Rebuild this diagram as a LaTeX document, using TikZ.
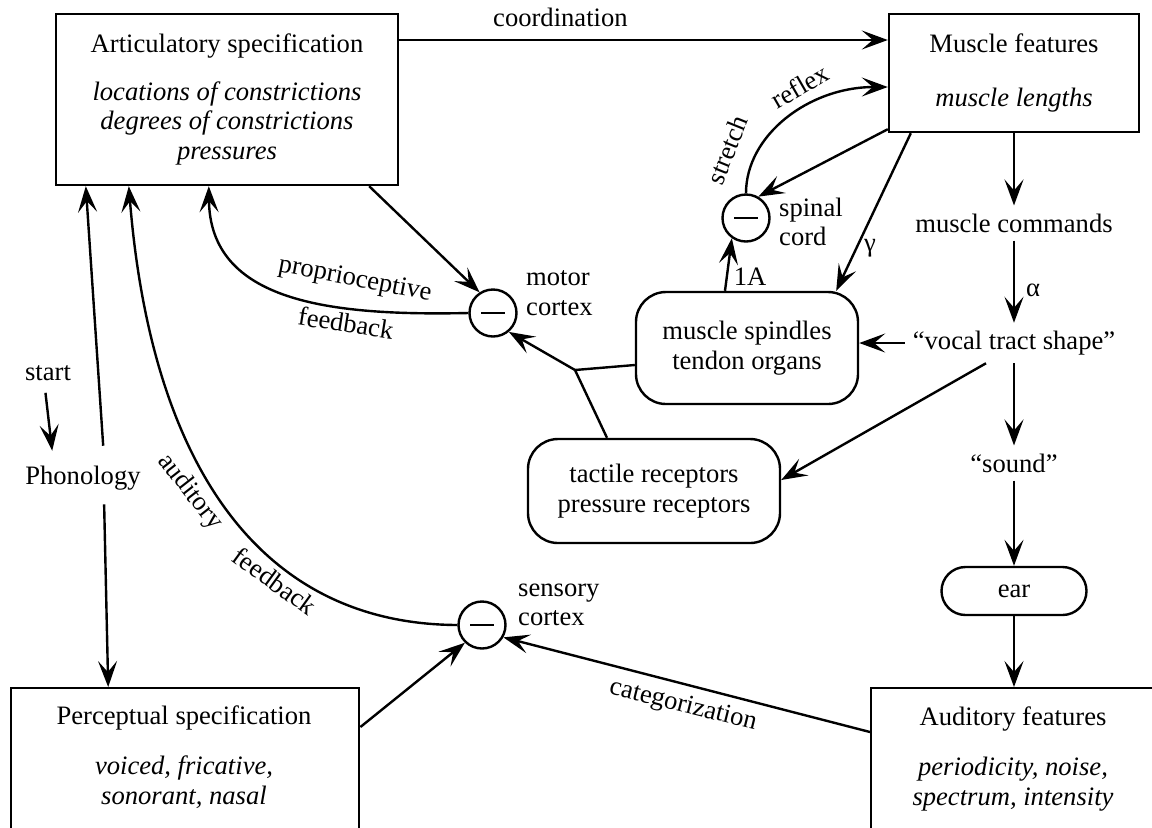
\documentclass[tikz,border=0pt]{standalone}
\usepackage{fontspec}
\setmainfont{Liberation Serif}
\usetikzlibrary{arrows.meta}
\begin{document}
\begin{tikzpicture}[x=0.5pt,y=-0.5pt,
  font=\fontsize{13.3}{14.8}\selectfont, line width=1.2pt,
  arr/.style={-{Stealth[length=13pt,width=9.5pt,inset=5.5pt]}},
  box/.style={draw, rectangle, inner sep=0pt, align=center},
  rbox/.style={draw, rectangle, rounded corners=15pt, inner sep=0pt, align=center},
  sumnode/.style={draw, circle, minimum size=23.5pt, inner sep=0pt},
  lbl/.style={inner sep=2pt},
  txt/.style={inner sep=3.5pt, align=center}]
\clip (0,0) rectangle (1152,827);

% boxes
\node[box, minimum width=171pt, minimum height=85.5pt] (art) at (227,99.5)
  {Articulatory specification\\[9pt]\textit{locations of constrictions}\\\textit{degrees of constrictions}\\\textit{pressures}};
\node[box, minimum width=125pt, minimum height=59pt] (mus) at (1014,73)
  {Muscle features\\[12pt]\textit{muscle lengths}};
\node[rbox, minimum width=111pt, minimum height=56pt] (spin) at (747,348)
  {muscle spindles\\tendon organs};
\node[rbox, minimum width=126pt, minimum height=52pt] (tac) at (654,491)
  {tactile receptors\\pressure receptors};
\node[rbox, rounded corners=12pt, minimum width=72.5pt, minimum height=24pt] (ear) at (1014,591) {ear};
\node[box, anchor=north west, minimum width=174pt, minimum height=76.5pt] (perc) at (10,687) {};
\node[txt] (perct) at (184,757)
  {Perceptual specification\\[10.2pt]\textit{voiced, fricative,}\\\textit{sonorant, nasal}};
\node[box, anchor=north west, minimum width=143pt, minimum height=76.5pt] (aud) at (870,687) {};
\node[txt] (audt) at (1013,759)
  {Auditory features\\[10.2pt]\textit{periodicity, noise,}\\\textit{spectrum, intensity}};

% comparators
\node[sumnode] (spinal) at (746,218) {\rule{12pt}{1.4pt}};
\node[sumnode] (motor) at (493,313) {\rule{12pt}{1.4pt}};
\node[sumnode] (sens) at (482,625) {\rule{12pt}{1.4pt}};

% plain texts
\node[txt] (start) at (48,373) {start};
\node[txt] (phon) at (83,478) {Phonology};
\node[txt] (mc) at (1014,223) {muscle commands};
\node[txt] (vt) at (1014,343) {“vocal tract shape”};
\node[txt] (snd) at (1014,463) {“sound”};
\node[txt, anchor=west, align=left] (spl) at (771,222) {spinal\\cord};
\node[txt, anchor=west, align=left] (mtl) at (518,293) {motor\\cortex};
\node[txt, anchor=west, align=left] (sel) at (510,605) {sensory\\cortex};

% connectors
\draw[arr] ([yshift=29.75pt]art.east) -- node[lbl, above=4pt, pos=0.33] (coordl) {coordination} ([yshift=16.5pt]mus.west);
\draw[arr] (spinal.north) .. controls (746,135) and (809,87) .. ([yshift=-7pt]mus.west);
\draw[arr] ([yshift=2pt]mus.south west) -- (spinal.60);
\draw[arr] ([xshift=11.5pt]mus.south west) -- ([xshift=-11.5pt]spin.north east);
\draw[arr] ([xshift=-11pt]spin.north) -- (spinal.-125);
\draw[arr] (mus.south) -- (mc.north);
\draw[arr] (mc.south) -- (vt.north);
\draw[arr] (vt.south) -- (snd.north);
\draw[arr] (snd.south) -- (ear.north);
\draw[arr] (ear.south) -- (ear.south |- aud.north);
\draw[arr] (vt.west) -- (spin.east |- vt.west);
\draw[arr] ([xshift=-14pt]vt.south) -- ([yshift=5.5pt]tac.east);

\coordinate (J) at (575,370);
\draw ([yshift=-8.5pt]spin.west) -- (J);
\draw ([xshift=-23.5pt]tac.north) -- (J);
\draw[arr] (J) -- (motor.-50);

\draw[arr] ([xshift=-15pt]art.south east) -- (motor.123);
\draw[arr] (motor.west) .. controls (330,316) and (210,302) .. ([xshift=77pt]art.south west);
\draw[arr] (sens.west) .. controls (250,624) and (150,450) .. ([xshift=37pt]art.south west);
\draw[arr, shorten <=6pt] ([xshift=10.5pt]phon.north) -- ([xshift=15.5pt]art.south west);
\draw[arr, shorten <=3pt] ([xshift=10.5pt]phon.south) -- ([xshift=-38.5pt]perc.north);
\draw[arr, shorten <=2pt, shorten >=3.5pt] ([xshift=-1.5pt]start.south) -- ([xshift=-15pt]phon.north);
\draw[arr] ([yshift=-20pt]perc.north east) -- (sens.-134);
\draw[arr] ([yshift=-22.5pt]aud.north west) -- (sens.-30);

% labels
\node[lbl, rotate=-11] (lprop) at (355,280) {proprioceptive};
\node[lbl, rotate=-9] (lfb1) at (346,323) {feedback};
\node[lbl, rotate=-52] (laud) at (190,492) {auditory};
\node[lbl, rotate=-36] (lfb2) at (275,581) {feedback};
\node[lbl, rotate=68] (lstr) at (727,150) {stretch};
\node[lbl, rotate=30] (lref) at (800,86) {reflex};
\node[lbl, rotate=-14] (lcat) at (683,706) {categorization};
\node[lbl] (lgam) at (870,248) {γ};
\node[lbl] (l1a) at (750,277) {1A};
\node[lbl] (lalp) at (1033,290) {α};
\end{tikzpicture}
\end{document}
